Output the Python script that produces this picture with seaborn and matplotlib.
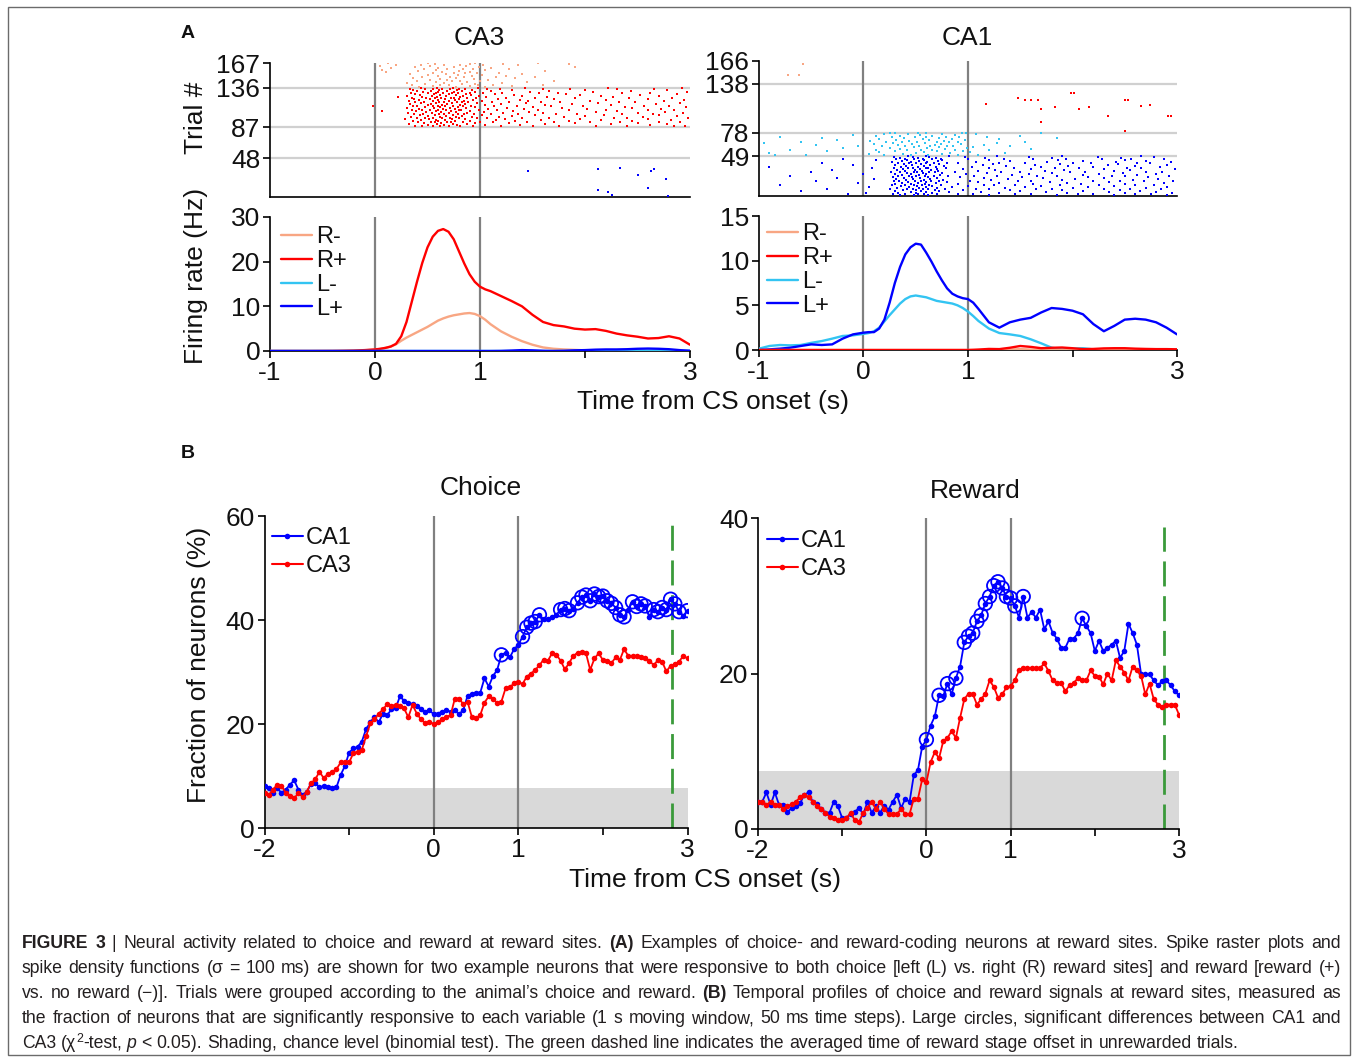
import numpy as np
import pandas as pd
import matplotlib
matplotlib.use("Agg")
import matplotlib.pyplot as plt
from matplotlib.lines import Line2D
from matplotlib.patches import Rectangle
from matplotlib import font_manager
import seaborn as sns

W, H = 1357, 1062

# ---------------- Panel A: raster (spike times per trial, rows from lowest trial up) ----
ca3_rminus_rows = [
    [0.42, 0.77, 1.05], [0.55, 0.9, 1.3], [0.35, 0.62, 0.98, 1.6], [0.7, 1.12],
    [0.48, 0.83, 0.95], [0.3, 0.66, 1.21], [0.58, 0.88, 1.45], [0.73, 1.0],
    [0.4, 0.81, 1.7], [0.52, 0.69, 1.08], [0.62, 0.94], [0.36, 0.77, 1.33],
    [0.85, 1.15, 1.52], [0.45, 0.71], [0.6, 0.92, 1.25], [0.5, 0.79, 1.02],
    [0.33, 0.68, 1.4], [0.75, 0.97], [0.55, 0.86, 1.18], [0.1, 0.64, 0.9],
    [0.41, 0.8, 1.62], [0.07, 0.58, 1.05], [0.69, 0.93, 1.28], [0.47, 0.84],
    [0.15, 0.6, 1.1], [0.38, 0.75, 0.99, 1.9], [0.05, 0.52, 0.87], [0.66, 1.03, 1.36],
    [0.2, 0.44, 0.81], [0.57, 0.9, 1.22, 1.85], [0.12, 0.5, 0.95, 1.55],
]
ca3_rplus_rows = [
    [0.45, 0.62, 0.81, 1.2, 1.75, 2.4, 2.85], [0.38, 0.55, 0.7, 0.93, 1.5, 2.1, 2.95],
    [0.5, 0.66, 0.78, 1.05, 1.38, 2.62], [0.32, 0.59, 0.74, 0.88, 1.62, 2.25, 2.78],
    [0.47, 0.63, 0.95, 1.28, 1.9, 2.5], [0.41, 0.57, 0.69, 0.84, 1.12, 1.7, 2.33, 2.9],
    [0.53, 0.72, 1.0, 1.45, 2.05, 2.7], [0.36, 0.6, 0.76, 0.9, 1.33, 1.85, 2.45],
    [0.44, 0.58, 0.67, 1.15, 1.58, 2.15, 2.82], [0.29, 0.51, 0.73, 0.86, 1.24, 1.95, 2.6],
    [0.48, 0.64, 0.8, 1.07, 1.4, 2.28, 2.98], [0.4, 0.55, 0.71, 0.97, 1.66, 2.4],
    [0.34, 0.62, 0.77, 0.92, 1.18, 1.8, 2.55], [0.5, 0.68, 0.83, 1.3, 2.0, 2.88],
    [0.43, 0.57, 0.74, 1.02, 1.52, 2.18, 2.7], [0.37, 0.61, 0.79, 0.94, 1.36, 1.92, 2.35],
    [0.46, 0.66, 0.85, 1.1, 1.72, 2.65], [0.31, 0.54, 0.7, 0.88, 1.22, 1.6, 2.5, 2.93],
    [0.49, 0.63, 0.77, 1.04, 1.47, 2.1, 2.76], [0.07, 0.39, 0.58, 0.72, 0.9, 1.31, 2.3],
    [0.45, 0.6, 0.82, 1.16, 1.85, 2.6], [0.35, 0.52, 0.68, 0.8, 0.99, 1.55, 2.2, 2.85],
    [0.42, 0.65, 0.76, 1.08, 1.42, 2.02, 2.72], [0.3, 0.56, 0.71, 0.87, 1.26, 1.78, 2.45],
    [0.48, 0.62, 0.79, 0.95, 1.5, 2.38, 2.96], [0.4, 0.55, 0.67, 0.84, 1.13, 1.68, 2.56],
    [-0.02, 0.36, 0.6, 0.74, 0.91, 1.35, 1.98, 2.8], [0.5, 0.64, 0.81, 1.05, 1.62, 2.25],
    [0.33, 0.53, 0.69, 0.86, 1.2, 1.88, 2.68], [0.44, 0.58, 0.73, 0.97, 1.44, 2.12, 2.9],
    [0.38, 0.61, 0.78, 0.89, 1.28, 1.76, 2.48], [0.47, 0.66, 0.83, 1.11, 1.58, 2.32],
    [0.32, 0.55, 0.7, 0.85, 1.02, 1.46, 2.05, 2.75], [0.42, 0.6, 0.76, 0.93, 1.38, 2.2, 2.94],
    [0.37, 0.52, 0.67, 0.8, 1.17, 1.7, 2.6], [0.49, 0.63, 0.75, 0.96, 1.52, 2.42],
    [0.35, 0.57, 0.72, 0.88, 1.25, 1.9, 2.83], [0.22, 0.45, 0.59, 0.81, 1.06, 1.64, 2.27],
    [0.3, 0.54, 0.68, 0.84, 0.99, 1.4, 2.15, 2.7], [0.43, 0.62, 0.77, 0.91, 1.32, 1.95, 2.52],
    [0.38, 0.56, 0.7, 0.87, 1.14, 1.82, 2.88], [0.5, 0.65, 0.79, 1.03, 1.56, 2.35],
    [0.34, 0.58, 0.73, 0.9, 1.21, 1.74, 2.62], [0.46, 0.6, 0.75, 0.95, 1.48, 2.08, 2.97],
    [0.4, 0.53, 0.69, 0.83, 1.1, 1.66, 2.44], [0.36, 0.61, 0.78, 0.92, 1.3, 2.0, 2.78],
    [0.48, 0.64, 0.8, 1.07, 1.6, 2.3], [0.33, 0.55, 0.71, 0.86, 1.19, 1.86, 2.66],
    [0.44, 0.59, 0.74, 0.98, 1.43, 2.22, 2.92],
]
ca3_lplus_t = [1.46, 2.12, 2.33, 2.5, 2.63, 2.66, 2.77, 2.6, 2.12, 2.22, 2.26, 2.79]
ca3_lplus_trial = [32, 35, 36, 28, 33, 35, 23, 11, 9, 6, 2, 1]

ca1_rminus_t = [-0.72, -0.62, -0.58]
ca1_rminus_trial = [149, 149, 162]
ca1_rplus_t = [1.17, 1.48, 1.55, 1.6, 1.67, 1.7, 1.7, 1.83, 1.99, 2.01, 2.06, 2.16,
               2.34, 2.5, 2.53, 2.5, 2.66, 2.74, 2.91, 2.94]
ca1_rplus_trial = [113, 121, 118, 118, 118, 107, 91, 109, 127, 127, 107, 110,
                   98, 118, 118, 80, 111, 112, 98, 98]
ca1_lminus_rows = [
    [-0.85, 0.45, 1.1], [-0.55, 0.2, 0.62, 0.9], [0.05, 0.38, 0.75], [-0.9, 0.5, 0.83, 1.35],
    [0.15, 0.58, 1.02], [-0.35, 0.3, 0.7, 0.95], [0.42, 0.66, 1.2], [-0.7, 0.12, 0.55, 0.88],
    [0.35, 0.78, 1.6], [-0.2, 0.25, 0.61, 0.99], [0.48, 0.72, 1.05], [-0.05, 0.4, 0.64, 0.86, 1.4],
    [0.18, 0.53, 0.8], [-0.45, 0.33, 0.68, 1.15], [0.1, 0.46, 0.74, 0.93], [-0.95, 0.28, 0.59, 1.28],
    [0.37, 0.7, 0.9], [-0.6, 0.22, 0.51, 0.82, 1.55], [0.06, 0.44, 0.77], [-0.25, 0.31, 0.63, 0.97],
    [0.15, 0.57, 0.85, 1.3], [-0.4, 0.39, 0.72, 1.85], [0.27, 0.6, 0.91], [-0.8, 0.49, 0.79, 1.18],
    [0.12, 0.35, 0.66, 1.5], [-0.1, 0.54, 0.88], [0.2, 0.43, 0.75, 1.08], [0.3, 0.6, 0.98, 1.7],
    [0.25, 0.52, 0.94],
]
ca1_lplus_rows = [
    [0.35, 0.48, 0.62, 1.2, 1.85, 2.4, 2.9], [-0.15, 0.28, 0.52, 0.7, 1.05, 1.6, 2.2, 2.75],
    [0.4, 0.58, 0.9, 1.45, 2.05, 2.6], [0.02, 0.33, 0.5, 0.66, 1.3, 1.95, 2.5, 2.95],
    [0.45, 0.6, 0.82, 1.12, 1.75, 2.35, 2.8], [-0.6, 0.3, 0.55, 0.72, 1.5, 2.1, 2.65],
    [0.38, 0.5, 0.68, 0.95, 1.4, 1.9, 2.45], [0.25, 0.47, 0.62, 1.2, 1.65, 2.3, 2.85],
    [-0.35, 0.42, 0.57, 0.78, 1.08, 1.8, 2.55], [0.32, 0.53, 0.7, 1.35, 2.0, 2.7],
    [0.05, 0.44, 0.6, 0.85, 1.55, 2.15, 2.9], [0.36, 0.51, 0.66, 1.0, 1.7, 2.4],
    [-0.8, 0.27, 0.48, 0.63, 1.25, 1.88, 2.6], [0.4, 0.56, 0.74, 1.15, 1.45, 2.25, 2.78],
    [0.3, 0.45, 0.59, 0.9, 1.62, 2.08, 2.5], [-0.05, 0.37, 0.52, 0.69, 1.3, 1.95, 2.88],
    [0.43, 0.6, 0.8, 1.1, 1.78, 2.35], [-0.45, 0.29, 0.49, 0.65, 1.48, 2.2, 2.68],
    [0.34, 0.55, 0.72, 1.02, 1.6, 2.45, 2.96], [0.41, 0.58, 0.76, 1.22, 1.9, 2.58],
    [0.1, 0.31, 0.47, 0.64, 1.38, 2.02, 2.82], [-0.25, 0.39, 0.54, 0.7, 1.15, 1.72, 2.3],
    [0.28, 0.46, 0.62, 0.92, 1.52, 2.15, 2.72], [0.44, 0.59, 0.81, 1.28, 1.85, 2.5],
    [-0.7, 0.33, 0.5, 0.67, 1.06, 1.66, 2.38, 2.92], [0.37, 0.53, 0.73, 1.42, 2.1, 2.62],
    [0.0, 0.3, 0.45, 0.6, 0.98, 1.58, 2.25, 2.8], [0.42, 0.57, 0.75, 1.18, 1.8, 2.48],
    [-0.5, 0.35, 0.51, 0.68, 1.32, 1.98, 2.7], [0.26, 0.48, 0.63, 0.88, 1.5, 2.12, 2.86],
    [0.4, 0.56, 0.71, 1.1, 1.74, 2.4], [-0.3, 0.32, 0.49, 0.65, 1.26, 1.92, 2.55],
    [0.38, 0.54, 0.7, 0.95, 1.6, 2.3, 2.98], [0.08, 0.43, 0.6, 0.79, 1.44, 2.06, 2.66],
    [0.29, 0.47, 0.62, 1.2, 1.83, 2.52], [-0.9, 0.36, 0.52, 0.69, 1.04, 1.7, 2.2, 2.84],
    [0.41, 0.58, 0.77, 1.36, 1.96, 2.6], [-0.1, 0.3, 0.46, 0.64, 1.14, 1.64, 2.34, 2.9],
    [0.39, 0.55, 0.72, 1.24, 1.88, 2.44], [0.33, 0.5, 0.67, 0.9, 1.55, 2.18, 2.74],
    [-0.4, 0.44, 0.6, 0.8, 1.3, 2.0, 2.62], [0.27, 0.45, 0.61, 1.08, 1.76, 2.42, 2.94],
    [0.37, 0.53, 0.71, 1.4, 2.1, 2.7], [0.12, 0.42, 0.58, 0.75, 1.2, 1.86, 2.5],
    [-0.2, 0.31, 0.48, 0.66, 1.0, 1.62, 2.28, 2.88], [0.4, 0.57, 0.74, 1.34, 1.94, 2.56],
    [0.35, 0.52, 0.69, 1.16, 1.8, 2.46], [0.29, 0.47, 0.63, 0.97, 1.58, 2.24, 2.78],
    [0.43, 0.6, 0.82, 1.28, 1.9, 2.66],
]
ca3_bounds = [48, 87, 136]
ca3_top = 167
ca1_bounds = [49, 78, 138]
ca1_top = 166

# ---------------- Panel A: spike density functions (Hz) ----------------
ca3_rate_t = [-1.0, -0.8, -0.6, -0.4, -0.3, -0.2, -0.1,
              0.0, 0.05, 0.1, 0.15, 0.2, 0.25, 0.3, 0.35, 0.4, 0.45, 0.5, 0.55,
              0.6, 0.65, 0.7, 0.75, 0.8, 0.85, 0.9, 0.95, 1.0, 1.05, 1.1,
              1.2, 1.3, 1.4, 1.5, 1.6, 1.7, 1.8, 1.9, 2.0, 2.1, 2.2, 2.3, 2.4,
              2.5, 2.6, 2.7, 2.8, 2.9, 3.0]
ca3_rminus = [0, 0, 0, 0, 0.02, 0.05, 0.15,
              0.3, 0.45, 0.7, 1.0, 1.5, 2.3, 3.0, 3.6, 4.2, 4.8, 5.4, 6.1,
              6.8, 7.3, 7.7, 8.0, 8.2, 8.4, 8.5, 8.3, 7.8, 7.0, 6.0,
              4.4, 3.2, 2.2, 1.4, 0.8, 0.5, 0.35, 0.25, 0.15, 0.1, 0.05, 0.03, 0.02,
              0, 0, 0, 0, 0, 0]
ca3_rplus = [0, 0, 0, 0.02, 0.05, 0.1, 0.2,
             0.35, 0.5, 0.7, 1.0, 1.6, 3.3, 6.5, 11.0, 15.5, 19.7, 23.2, 25.6,
             26.9, 27.3, 26.7, 25.0, 22.3, 19.6, 17.2, 15.5, 14.4, 13.8, 13.4,
             12.3, 11.2, 10.0, 8.1, 6.5, 5.8, 5.5, 5.0, 4.8, 4.9, 4.5, 3.9, 3.5,
             3.2, 2.8, 2.9, 3.3, 2.8, 1.4]
ca3_lminus = [0, 0, 0, 0, 0, 0, 0,
              0, 0, 0, 0, 0, 0, 0, 0, 0, 0, 0, 0,
              0, 0, 0, 0, 0, 0, 0, 0, 0, 0, 0,
              0, 0, 0, 0, 0, 0, 0, 0, 0.02, 0.03, 0.05, 0.05, 0.06,
              0.08, 0.1, 0.1, 0.1, 0.08, 0.05]
ca3_lplus = [0, 0, 0, 0, 0, 0, 0,
             0, 0, 0, 0, 0, 0, 0, 0, 0, 0, 0, 0,
             0, 0, 0, 0, 0, 0, 0, 0, 0, 0, 0,
             0.02, 0.1, 0.2, 0.15, 0.05, 0.0, 0.05, 0.15, 0.2, 0.3, 0.35, 0.35, 0.4,
             0.5, 0.55, 0.5, 0.4, 0.2, 0.05]

ca1_rate_t = [-1.0, -0.9, -0.8, -0.7, -0.6, -0.5, -0.4, -0.3, -0.2, -0.1,
              0.0, 0.05, 0.1, 0.15, 0.2, 0.25, 0.3, 0.35, 0.4, 0.45, 0.5, 0.55,
              0.6, 0.65, 0.7, 0.75, 0.8, 0.85, 0.9, 0.95, 1.0, 1.05, 1.1,
              1.2, 1.3, 1.4, 1.5, 1.6, 1.7, 1.8, 1.9, 2.0, 2.1, 2.2, 2.3, 2.4,
              2.5, 2.6, 2.7, 2.8, 2.9, 3.0]
ca1_rminus = [0, 0, 0, 0, 0, 0, 0, 0, 0, 0,
              0, 0, 0, 0, 0, 0, 0, 0, 0, 0, 0, 0,
              0, 0, 0, 0, 0, 0, 0, 0, 0, 0, 0,
              0, 0.02, 0.05, 0.1, 0.05, 0.02, 0, 0, 0, 0, 0, 0, 0,
              0, 0, 0, 0, 0, 0]
ca1_rplus = [0, 0, 0, 0, 0, 0, 0, 0, 0, 0,
             0, 0, 0, 0, 0, 0, 0, 0, 0, 0, 0, 0,
             0, 0, 0, 0, 0, 0, 0, 0, 0, 0.02, 0.05,
             0.12, 0.1, 0.25, 0.45, 0.35, 0.2, 0.25, 0.28, 0.2, 0.1, 0.12, 0.18, 0.2,
             0.2, 0.15, 0.12, 0.1, 0.1, 0.08]
ca1_lminus = [0.15, 0.45, 0.56, 0.52, 0.56, 0.8, 1.0, 1.27, 1.57, 1.64,
              1.8, 1.9, 2.1, 2.5, 3.2, 3.9, 4.55, 5.2, 5.7, 6.0, 6.1, 6.0,
              5.9, 5.7, 5.5, 5.4, 5.3, 5.2, 5.0, 4.7, 4.3, 3.8, 3.25,
              2.4, 1.9, 1.75, 1.57, 1.2, 0.75, 0.26, 0.07, 0.15, 0.2, 0.07, 0.02, 0,
              0, 0, 0, 0, 0, 0]
ca1_lplus = [0.0, 0.07, 0.15, 0.26, 0.45, 0.63, 0.56, 0.63, 1.27, 1.75,
             1.94, 2.0, 2.0, 2.4, 3.4, 5.3, 7.5, 9.3, 10.7, 11.5, 11.9, 11.8,
             10.9, 9.9, 8.8, 7.8, 6.9, 6.3, 6.0, 5.8, 5.7, 5.3, 4.6,
             3.1, 2.5, 3.1, 3.4, 3.6, 4.2, 4.7, 4.6, 4.4, 4.0, 2.9, 2.1, 2.7,
             3.4, 3.5, 3.4, 3.1, 2.5, 1.75]

# ---------------- Panel B: fraction of neurons (%), 50 ms steps from -2 to 3 s ----
choice_ca1 = [8.1, 7.6, 6.8, 7.6, 6.8, 7.4, 8.3, 9.2, 7.4, 6.3,
              7.0, 8.5, 8.7, 7.8, 8.1, 7.8, 7.6, 7.8, 10.2, 11.9,
              14.5, 15.3, 15.6, 16.6, 19.0, 20.3, 21.4, 20.3, 22.0, 21.7,
              22.8, 23.0, 25.3, 24.5, 24.1, 23.8, 23.5, 22.8, 22.4, 22.6,
              21.9, 22.0, 22.4, 22.6, 22.4, 22.6, 21.9, 22.7, 25.4, 25.8,
              26.0, 26.0, 28.8, 27.2, 29.2, 30.4, 33.3, 33.7, 32.8, 34.4,
              35.2, 36.8, 38.6, 39.4, 39.7, 41.0, 40.1, 40.1, 40.6, 41.0,
              42.0, 42.2, 41.8, 42.2, 43.3, 44.4, 44.8, 43.7, 45.0, 44.5,
              44.6, 43.7, 43.2, 42.4, 41.0, 40.6, 42.0, 43.5, 42.6, 43.1,
              42.7, 40.6, 42.0, 41.6, 42.4, 42.0, 44.0, 43.1, 41.6, 40.8,
              41.8]
choice_ca3 = [6.7, 6.3, 7.4, 8.3, 8.1, 6.8, 6.2, 5.7, 6.7, 6.0,
              7.0, 8.6, 9.4, 10.8, 9.6, 10.4, 10.8, 11.3, 12.6, 12.6,
              12.6, 14.4, 14.7, 15.0, 17.6, 20.1, 20.9, 22.0, 22.8, 23.8,
              23.5, 23.7, 23.5, 23.0, 21.3, 23.7, 22.0, 20.9, 20.1, 20.4,
              20.0, 20.3, 20.9, 21.4, 21.7, 24.9, 24.9, 23.8, 24.3, 21.4,
              21.1, 21.7, 24.1, 25.3, 24.9, 24.0, 24.3, 26.9, 27.1, 27.8,
              28.1, 27.7, 29.1, 29.7, 30.4, 31.3, 32.4, 32.2, 33.6, 33.3,
              32.2, 30.5, 31.7, 33.1, 33.7, 33.9, 33.6, 30.4, 32.6, 33.6,
              32.3, 32.2, 31.7, 32.8, 32.3, 34.4, 33.1, 33.1, 33.1, 32.9,
              32.6, 32.2, 31.3, 32.3, 32.0, 30.1, 31.2, 31.5, 32.0, 33.1,
              32.6]
choice_sig = [56, 61, 62, 63, 64, 65, 70, 71, 72, 74, 75, 76, 77, 78, 79, 80, 81,
              82, 83, 84, 85, 87, 88, 89, 90, 92, 93, 94, 95, 96, 97, 98, 100]
reward_ca1 = [3.5, 3.5, 4.7, 3.1, 4.7, 3.1, 3.1, 2.2, 2.7, 3.0,
              3.3, 4.4, 4.7, 3.5, 3.2, 2.6, 2.1, 2.1, 3.5, 2.9,
              1.4, 1.4, 1.9, 2.2, 2.7, 1.9, 3.5, 2.1, 2.9, 2.1,
              3.0, 2.5, 3.5, 4.4, 2.7, 3.9, 3.5, 6.9, 7.6, 10.6,
              11.5, 13.3, 14.5, 17.2, 17.1, 18.7, 17.3, 19.4, 20.9, 24.0,
              24.8, 25.2, 26.7, 27.5, 29.0, 29.9, 31.3, 31.8, 31.0, 29.9,
              29.7, 28.7, 27.2, 29.9, 27.2, 27.9, 27.2, 28.2, 25.7, 26.7,
              25.2, 24.5, 23.3, 23.3, 24.5, 24.5, 25.2, 27.1, 26.1, 25.2,
              22.9, 24.2, 22.9, 23.3, 23.7, 24.2, 22.0, 22.9, 26.4, 25.2,
              23.7, 19.9, 19.9, 19.9, 19.1, 18.5, 19.0, 19.1, 18.5, 17.7,
              17.2]
reward_ca3 = [3.5, 3.5, 3.1, 3.5, 3.1, 3.1, 2.6, 2.9, 3.2, 3.5,
              4.1, 4.4, 4.1, 3.5, 3.0, 2.6, 2.1, 1.6, 1.4, 1.2,
              1.2, 1.4, 2.1, 1.1, 0.9, 2.1, 2.7, 3.5, 2.6, 3.5,
              2.6, 1.9, 1.9, 1.9, 2.6, 1.9, 1.9, 3.9, 3.9, 6.4,
              6.0, 8.6, 9.9, 9.1, 11.3, 11.7, 12.6, 11.7, 14.3, 16.7,
              17.4, 17.4, 16.0, 16.7, 17.4, 19.1, 18.3, 16.9, 17.3, 18.2,
              18.4, 19.1, 20.4, 20.7, 20.7, 20.7, 20.7, 20.7, 21.3, 20.3,
              19.1, 18.8, 18.8, 17.7, 18.5, 18.8, 19.4, 19.1, 19.1, 20.4,
              19.7, 19.6, 18.6, 20.0, 19.1, 21.7, 20.9, 20.1, 19.1, 20.9,
              20.4, 19.7, 17.3, 18.7, 16.7, 16.0, 15.7, 16.0, 16.0, 16.0,
              14.7]
reward_sig = [40, 43, 45, 47, 49, 50, 51, 52, 53, 54, 55, 56, 57, 58, 59, 60, 61, 63, 77]
choice_chance = 7.6
reward_chance = 7.5
offset_time = 2.82

C_RM, C_RP, C_LM, C_LP = "#f8a683", "#ff0000", "#33c4f2", "#0000ff"
GRAY_V, GRAY_H = "#808080", "#d0d0d0"
RATE_LABELS = ["R-", "R+", "L-", "L+"]
RATE_COLORS = [C_RM, C_RP, C_LM, C_LP]

sns.set_theme(style="ticks")
plt.rcParams["font.family"] = ["Liberation Sans", "DejaVu Sans"]
plt.rcParams["axes.linewidth"] = 1.2
plt.rcParams["text.color"] = "#111111"

fig = plt.figure(figsize=(W / 100, H / 100), dpi=100)


def px_axes(x0, y0, x1, y1):
    return fig.add_axes([x0 / W, 1 - y1 / H, (x1 - x0) / W, (y1 - y0) / H])


def ftext(x, y, s, **kw):
    return fig.text(x / W, 1 - y / H, s, **kw)


def style(ax):
    sns.despine(ax=ax)
    ax.tick_params(direction="out", length=5, width=1.2, labelsize=19, pad=2,
                   color="black", labelcolor="#111111")
    for s in ("left", "bottom"):
        ax.spines[s].set_color("black")
    ax.set_xlabel("")
    ax.set_ylabel("")


def rows_frame(rows, first):
    recs = [(t, first + k) for k, row in enumerate(rows) for t in row]
    return pd.DataFrame(recs, columns=["time", "trial"])


def draw_raster(ax, frames, bounds, top):
    for b in bounds:
        ax.axhline(b, color=GRAY_H, lw=1.6, zorder=0)
    for v in (0, 1):
        ax.axvline(v, color=GRAY_V, lw=1.6, zorder=1)
    for df, color in frames:
        sns.scatterplot(data=df, x="time", y="trial", color=color, marker="s", s=3.4,
                        linewidth=0, ax=ax, legend=False, zorder=3)
    ax.set_xlim(-1, 3)
    ax.set_ylim(0, top)
    ax.set_yticks(bounds + [top])
    ax.set_xticks([])
    style(ax)


def draw_rate(ax, t, series, order, ymax, yticks, anchor):
    for v in (0, 1):
        ax.axvline(v, color=GRAY_V, lw=1.6, zorder=1)
    for i in order:
        sns.lineplot(x=t, y=series[i], color=RATE_COLORS[i], lw=1.7, ax=ax, zorder=3)
    ax.set_xlim(-1, 3)
    ax.set_ylim(0, ymax)
    ax.set_yticks(yticks)
    ax.set_xticks([-1, 0, 1, 2, 3])
    ax.set_xticklabels(["-1", "0", "1", "", "3"])
    style(ax)
    handles = [Line2D([], [], color=c, lw=1.7) for c in RATE_COLORS]
    ax.legend(handles, RATE_LABELS, loc="upper left", bbox_to_anchor=(anchor[0] / W, 1 - anchor[1] / H),
              bbox_transform=fig.transFigure, frameon=False, fontsize=17, handlelength=1.3,
              handletextpad=0.2, labelspacing=0.08, borderpad=0, borderaxespad=0)


def draw_fraction(ax, ca1, ca3, sig, ymax, yticks, chance, anchor):
    t1 = np.linspace(-2, 3, len(ca1))
    t3 = np.linspace(-2, 3, len(ca3))
    ax.axhspan(0, chance, color="#d9d9d9", lw=0, zorder=0)
    for v in (0, 1):
        ax.axvline(v, color=GRAY_V, lw=1.6, zorder=1)
    ax.axvline(offset_time, ymin=0, ymax=0.97, color="#3a9a3a", lw=2, dashes=(9, 3.5), zorder=2)
    sns.lineplot(x=t1, y=ca1, color="#0000ff", lw=1.3, marker="o", markersize=4,
                 markeredgewidth=0, ax=ax, zorder=3)
    sns.lineplot(x=t3, y=ca3, color="#ff0000", lw=1.3, marker="o", markersize=4,
                 markeredgewidth=0, ax=ax, zorder=4)
    ca1_arr = np.asarray(ca1)
    sns.scatterplot(x=t1[sig], y=ca1_arr[sig], s=95, facecolor="none", edgecolor="#0000ff",
                    linewidth=1.3, ax=ax, zorder=5, legend=False)
    ax.set_xlim(-2, 3)
    ax.set_ylim(0, ymax)
    ax.set_yticks(yticks)
    ax.set_xticks([-2, -1, 0, 1, 2, 3])
    ax.set_xticklabels(["-2", "", "0", "1", "", "3"])
    style(ax)
    handles = [Line2D([], [], color="#0000ff", lw=1.5, marker="o", markersize=4, markeredgewidth=0),
               Line2D([], [], color="#ff0000", lw=1.5, marker="o", markersize=4, markeredgewidth=0)]
    ax.legend(handles, ["CA1", "CA3"], loc="upper left", bbox_to_anchor=(anchor[0] / W, 1 - anchor[1] / H),
              bbox_transform=fig.transFigure, frameon=False, fontsize=17, handlelength=1.3,
              handletextpad=0.15, labelspacing=0.25, borderpad=0, borderaxespad=0)


# ---- panel A ----
ax = px_axes(270, 63, 690, 197)
draw_raster(ax, [(rows_frame(ca3_rminus_rows, 137), C_RM),
                 (rows_frame(ca3_rplus_rows, 88), C_RP),
                 (pd.DataFrame({"time": ca3_lplus_t, "trial": ca3_lplus_trial}), C_LP)],
            ca3_bounds, ca3_top)
ax = px_axes(759, 61, 1177, 196)
draw_raster(ax, [(pd.DataFrame({"time": ca1_rminus_t, "trial": ca1_rminus_trial}), C_RM),
                 (pd.DataFrame({"time": ca1_rplus_t, "trial": ca1_rplus_trial}), C_RP),
                 (rows_frame(ca1_lminus_rows, 50), C_LM),
                 (rows_frame(ca1_lplus_rows, 1), C_LP)],
            ca1_bounds, ca1_top)

ax = px_axes(270, 217, 690, 351)
draw_rate(ax, ca3_rate_t, [ca3_rminus, ca3_rplus, ca3_lminus, ca3_lplus], [0, 1, 2, 3],
          30, [0, 10, 20, 30], (281, 226))
ax = px_axes(759, 216, 1177, 350)
draw_rate(ax, ca1_rate_t, [ca1_rminus, ca1_rplus, ca1_lminus, ca1_lplus], [2, 3, 0, 1],
          15, [0, 5, 10, 15], (767, 223))

ftext(188, 33, "A", fontsize=14, fontweight="bold", ha="center", va="center")
ftext(479, 38, "CA3", fontsize=19, ha="center", va="center")
ftext(967, 38, "CA1", fontsize=19, ha="center", va="center")
ftext(196, 118, "Trial #", fontsize=19, rotation=90, ha="center", va="center")
ftext(196, 276, "Firing rate (Hz)", fontsize=19, rotation=90, ha="center", va="center")
ftext(713, 402, "Time from CS onset (s)", fontsize=19, ha="center", va="center")

# ---- panel B ----
ax = px_axes(264.5, 516, 687.5, 828)
draw_fraction(ax, choice_ca1, choice_ca3, choice_sig, 60, [0, 20, 40, 60], choice_chance, (272, 527))
ax = px_axes(758, 518, 1179, 829)
draw_fraction(ax, reward_ca1, reward_ca3, reward_sig, 40, [0, 20, 40], reward_chance, (767, 530))

ftext(188, 453, "B", fontsize=14, fontweight="bold", ha="center", va="center")
ftext(481, 488, "Choice", fontsize=19, ha="center", va="center")
ftext(975, 491, "Reward", fontsize=19, ha="center", va="center")
ftext(199, 665, "Fraction of neurons (%)", fontsize=19, rotation=90, ha="center", va="center")
ftext(705, 880, "Time from CS onset (s)", fontsize=19, ha="center", va="center")

# ---- caption ----
names = {f.name for f in font_manager.fontManager.ttflist}
if "Liberation Sans Narrow" in names:
    cap_family = ["Liberation Sans Narrow", "DejaVu Sans"]
else:
    cap_family = ["Liberation Sans", "DejaVu Sans"]

N = {}
B = {"weight": "bold"}
I = {"style": "italic"}
SUP = {"scale": 0.7, "dy": 6}
caption = [
    [("FIGURE 3", B), (" | Neural activity related to choice and reward at reward sites. ", N), ("(A)", B),
     (" Examples of choice- and reward-coding neurons at reward sites. Spike raster plots and", N)],
    [("spike density functions (\u03c3 = 100 ms) are shown for two example neurons that were responsive "
      "to both choice [left (L) vs. right (R) reward sites] and reward [reward (+)", N)],
    [("vs. no reward (\u2212)]. Trials were grouped according to the animal\u2019s choice and reward. ", N),
     ("(B)", B), (" Temporal profiles of choice and reward signals at reward sites, measured as", N)],
    [("the fraction of neurons that are significantly responsive to each variable (1 s moving window, "
      "50 ms time steps). Large circles, significant differences between CA1 and", N)],
    [("CA3 (\u03c7", N), ("2", SUP), ("-test, ", N), ("p", I),
     (" < 0.05). Shading, chance level (binomial test). The green dashed line indicates the averaged "
      "time of reward stage offset in unrewarded trials.", N)],
]
renderer = fig.canvas.get_renderer()
CAP_X0, CAP_X1 = 22, 1341


def tokenize(runs):
    tokens = []
    gap = False
    for text, st in runs:
        for j, part in enumerate(text.split(" ")):
            if j > 0:
                gap = True
            if not part:
                continue
            tokens.append((part, st, gap and len(tokens) > 0))
            gap = False
    return tokens


def make_words(tokens, size):
    arts = [fig.text(0, 0, p, fontsize=size * st.get("scale", 1), family=cap_family,
                     fontweight=st.get("weight", "normal"), fontstyle=st.get("style", "normal"),
                     color="#231f20", ha="left", va="baseline") for p, st, g in tokens]
    widths = [a.get_window_extent(renderer).width for a in arts]
    return arts, widths


def space_width(size):
    p1 = fig.text(0, 0, "n n", fontsize=size, family=cap_family)
    p2 = fig.text(0, 0, "nn", fontsize=size, family=cap_family)
    w = p1.get_window_extent(renderer).width - p2.get_window_extent(renderer).width
    p1.remove()
    p2.remove()
    return w


# pick a caption size so the justified lines need only a little extra spacing
base = 10
sp0 = space_width(base)
ratios = []
for runs in caption[:-1]:
    tk = tokenize(runs)
    arts, widths = make_words(tk, base)
    natural = sum(widths) + sp0 * sum(1 for t in tk if t[2])
    ratios.append((CAP_X1 - CAP_X0) / natural)
    for a in arts:
        a.remove()
cap_size = round(base * min(ratios) * 0.985, 1)
space = space_width(cap_size)

for k, runs in enumerate(caption):
    tk = tokenize(runs)
    arts, widths = make_words(tk, cap_size)
    ngaps = sum(1 for t in tk if t[2])
    gap_w = space
    if k < len(caption) - 1 and ngaps:
        gap_w = (CAP_X1 - CAP_X0 - sum(widths)) / ngaps
    x = CAP_X0
    baseline = 948 + 25 * k
    for a, w, (p, st, g) in zip(arts, widths, tk):
        if g:
            x += gap_w
        a.set_position((x / W, 1 - (baseline - st.get("dy", 0)) / H))
        x += w

fig.add_artist(Rectangle((8 / W, 1 - 1055 / H), (1350 - 8) / W, (1055 - 7) / H,
                         transform=fig.transFigure, fill=False, edgecolor="#6b6b6b", lw=1.0))

fig.savefig("out.png", dpi=100)
